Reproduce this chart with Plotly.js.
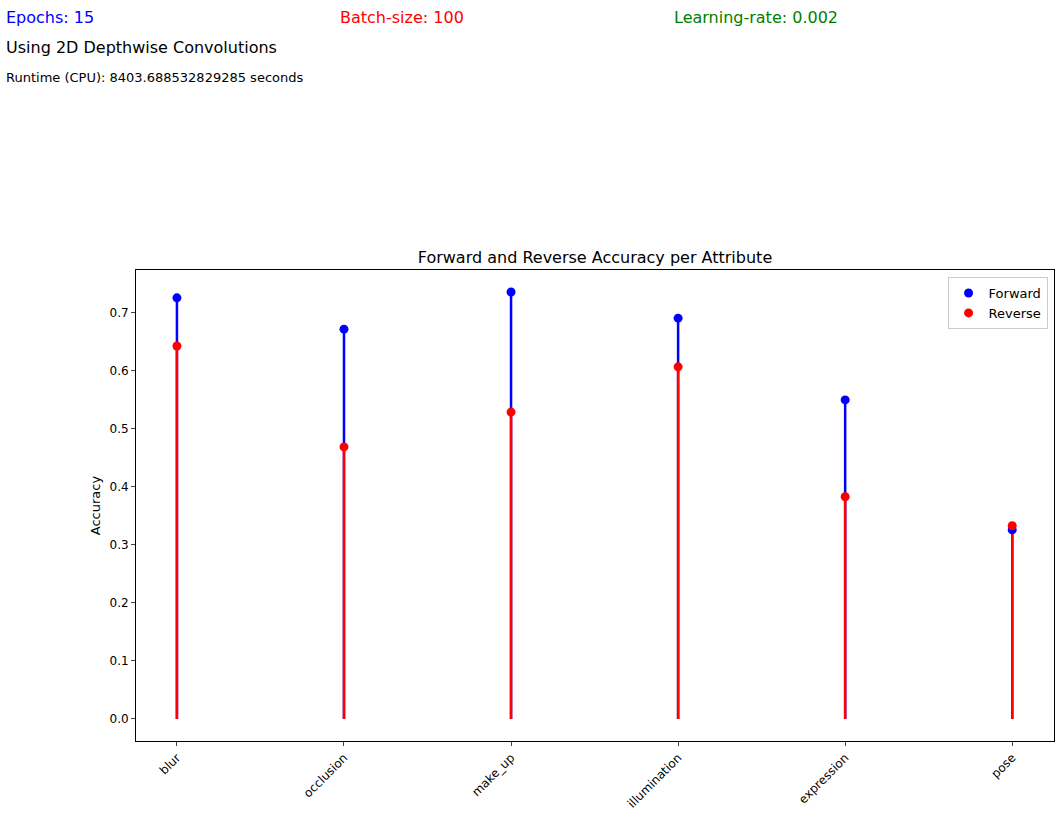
<!DOCTYPE html>
<html><head><script src="https://cdn.plot.ly/plotly-3.0.1.min.js"></script>
<style>body{margin:0}</style></head><body>
<div id="c" style="width:1064px;height:828px"></div>
<script>
const categories=["blur","occlusion","make_up","illumination","expression","pose"];
const forward=[0.726,0.672,0.736,0.691,0.550,0.326];
const reverse=[0.643,0.469,0.529,0.607,0.383,0.333];
function stems(v){const x=[],y=[];v.forEach((d,i)=>{x.push(categories[i],categories[i],null);y.push(0,d,null);});return {x,y};}
const fs=stems(forward), rs=stems(reverse);
const traces=[
{x:fs.x,y:fs.y,mode:'lines',line:{color:'blue',width:2.5},showlegend:false,hoverinfo:'skip'},
{x:rs.x,y:rs.y,mode:'lines',line:{color:'red',width:2.5},showlegend:false,hoverinfo:'skip'},
{x:categories,y:forward,mode:'markers',name:'Forward',marker:{color:'blue',size:9}},
{x:categories,y:reverse,mode:'markers',name:'Reverse',marker:{color:'red',size:9}}
];
const txt=(x,y,t,c,s)=>({xref:'paper',yref:'paper',x:x,y:y,xanchor:'left',yanchor:'middle',showarrow:false,text:t,font:{color:c,size:s}});
const L=136,W=918,T=270,H=471;
const px=p=>(p-L)/W, py=p=>(T+H-p)/H;
const layout={
width:1064,height:828,margin:{l:L,r:1064-L-W,t:T,b:828-T-H},
font:{family:'DejaVu Sans',size:12,color:'black'},
plot_bgcolor:'white',paper_bgcolor:'white',
title:{text:'Forward and Reverse Accuracy per Attribute',x:0.5+(L-(1064-L-W))/2/1064,y:1-257/828,yanchor:'middle',font:{size:16}},
xaxis:{type:'category',range:[-0.245,5.25],tickangle:-45,showgrid:false,zeroline:false,showline:true,mirror:true,linecolor:'black',ticks:'outside',ticklen:4,tickfont:{size:12}},
yaxis:{range:[-0.038,0.774],dtick:0.1,tickformat:'.1f',showgrid:false,zeroline:false,showline:true,mirror:true,linecolor:'black',ticks:'outside',ticklen:4,title:{text:'Accuracy',font:{size:13}}},
legend:{x:0.993,y:0.985,xanchor:'right',yanchor:'top',bordercolor:'#ccc',borderwidth:1,font:{size:13}},
annotations:[
txt(px(4),py(18),'Epochs: 15','blue',16),
txt(px(338),py(18),'Batch-size: 100','red',16),
txt(px(672),py(18),'Learning-rate: 0.002','green',16),
txt(px(4),py(47),'Using 2D Depthwise Convolutions','black',16),
txt(px(4),py(77),'Runtime (CPU): 8403.688532829285 seconds','black',13)
]};
Plotly.newPlot('c',traces,layout,{displayModeBar:false});
</script></body></html>
